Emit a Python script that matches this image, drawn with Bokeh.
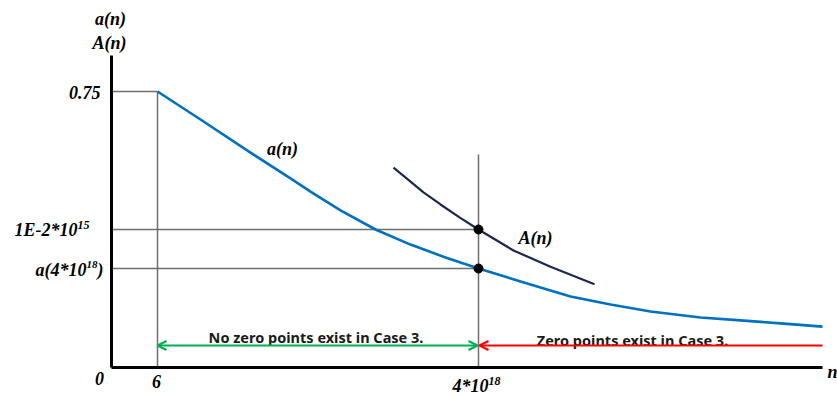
from bokeh.plotting import figure
from bokeh.models import Range1d, Arrow, OpenHead
from bokeh.core.properties import value
from bokeh.embed import file_html
from bokeh.resources import INLINE

# ---- schematic data (abstract n-axis units, y in value units) ----
n_six = 46            # position of n = 6 on schematic axis
n_star = 367          # position of n = 4*10^18
n_end = 711           # end of the n axis
y_top = 0.848         # top of the y axis

level_start = 0.75     # a(6)
level_A = 0.375        # 1E-2*10^15
level_a = 0.269        # a(4*10^18)

a_n_x = [46, 89, 139, 179, 199, 229, 264, 299, 334, 367, 409, 459, 499, 539, 589, 629, 669, 711]
a_n_y = [0.75, 0.674, 0.584, 0.514, 0.478, 0.427, 0.375, 0.334, 0.299, 0.269, 0.234,
         0.193, 0.171, 0.152, 0.136, 0.128, 0.120, 0.111]

A_n_x = [282, 296, 312, 329, 348, 367, 402, 439, 483]
A_n_y = [0.543, 0.512, 0.476, 0.443, 0.408, 0.375, 0.318, 0.274, 0.226]

arrow_y = 0.0598
left_text = "No zero points exist in Case 3."
right_text = "Zero points exist in Case 3."

W, H = 837, 397
p = figure(width=W, height=H, output_backend="svg", toolbar_location=None,
           x_range=Range1d(-111, 726), y_range=Range1d(-0.08152, 0.99728),
           x_axis_location=None, y_axis_location=None, min_border=0)
p.grid.visible = False
p.outline_line_color = None
p.background_fill_color = "white"
p.border_fill_color = "white"

GRAY = "#6e6e6e"
# guide lines
p.segment(x0=[0, n_six, 0, 0, n_star], y0=[level_start, 0, level_A, level_a, 0],
          x1=[n_six, n_six, n_star, n_star, n_star],
          y1=[level_start, level_start, level_A, level_a, 0.579],
          line_color=GRAY, line_width=1.5)

# curves
p.line(a_n_x, a_n_y, line_color="#0070c0", line_width=2.6, line_join="round")
p.line(A_n_x, A_n_y, line_color="#1a2a4f", line_width=2.2, line_join="round")

# arrows
p.add_layout(Arrow(x_start=n_six, y_start=arrow_y, x_end=n_star - 1, y_end=arrow_y,
                   line_color="#00b050", line_width=2.2,
                   start=OpenHead(size=9, line_color="#00b050", line_width=2.2),
                   end=OpenHead(size=9, line_color="#00b050", line_width=2.2)))
p.add_layout(Arrow(x_start=n_end, y_start=arrow_y, x_end=n_star + 1, y_end=arrow_y,
                   line_color="#ff0000", line_width=2.2,
                   end=OpenHead(size=9, line_color="#ff0000", line_width=2.2)))

# axes
p.segment(x0=[0, 0], y0=[0, 0], x1=[0, n_end], y1=[y_top, 0], line_color="black", line_width=3)

# dots
p.scatter(x=[n_star, n_star], y=[level_A, level_a], size=9, color="black")

SERIF = value("Liberation Serif")

def lab(x, y, t, size="18px", align="left", baseline="middle", dx=0, dy=0):
    p.text(x=[x], y=[y], text=[t], text_font=SERIF, text_font_style="bold italic",
           text_font_size=size, text_align=align, text_baseline=baseline,
           x_offset=dx, y_offset=dy, text_color="black")

# y labels
lab(0, level_start, "0.75", align="right", dx=-11, dy=1)
lab(0, level_A, "1E-2*10", align="right", dx=-34, dy=1)
lab(0, level_A, "15", size="12px", align="left", dx=-34, dy=-4)
lab(0, level_a, "a(4*10", align="right", dx=-25, dy=1)
lab(0, level_a, "18", size="11px", align="left", dx=-25, dy=-4)
lab(0, level_a, ")", align="left", dx=-14, dy=1)
lab(0, y_top, "a(n)", align="center", dx=-1, dy=-36)
lab(0, y_top, "A(n)", align="center", dx=-2, dy=-12)

# x labels
lab(0, 0, "0", align="center", dx=-12, dy=11)
lab(n_six, 0, "6", align="center", dx=-1, dy=14)
lab(n_star, 0, "4*10", align="right", dx=10, dy=18)
lab(n_star, 0, "18", size="12px", align="left", dx=10, dy=13)
lab(n_end, 0, "n", align="left", baseline="alphabetic", dx=5, dy=4)

# curve labels
lab(171, 0.595, "a(n)", align="center")
lab(424, 0.353, "A(n)", align="center")

SANS = value("Noto Sans")
p.text(x=[(n_six + n_star) / 2], y=[arrow_y], text=[left_text], text_font=SANS,
       text_font_style="bold", text_font_size="14.5px", text_align="center",
       text_baseline="alphabetic", x_offset=-2, y_offset=-8, text_color="#1a1a1a")
p.text(x=[(n_star + n_end) / 2], y=[arrow_y], text=[right_text], text_font=SANS,
       text_font_style="bold", text_font_size="14.5px", text_align="center",
       text_baseline="alphabetic", x_offset=-18, y_offset=-5, text_color="#1a1a1a")

open("out.html", "w").write(file_html(p, INLINE))
